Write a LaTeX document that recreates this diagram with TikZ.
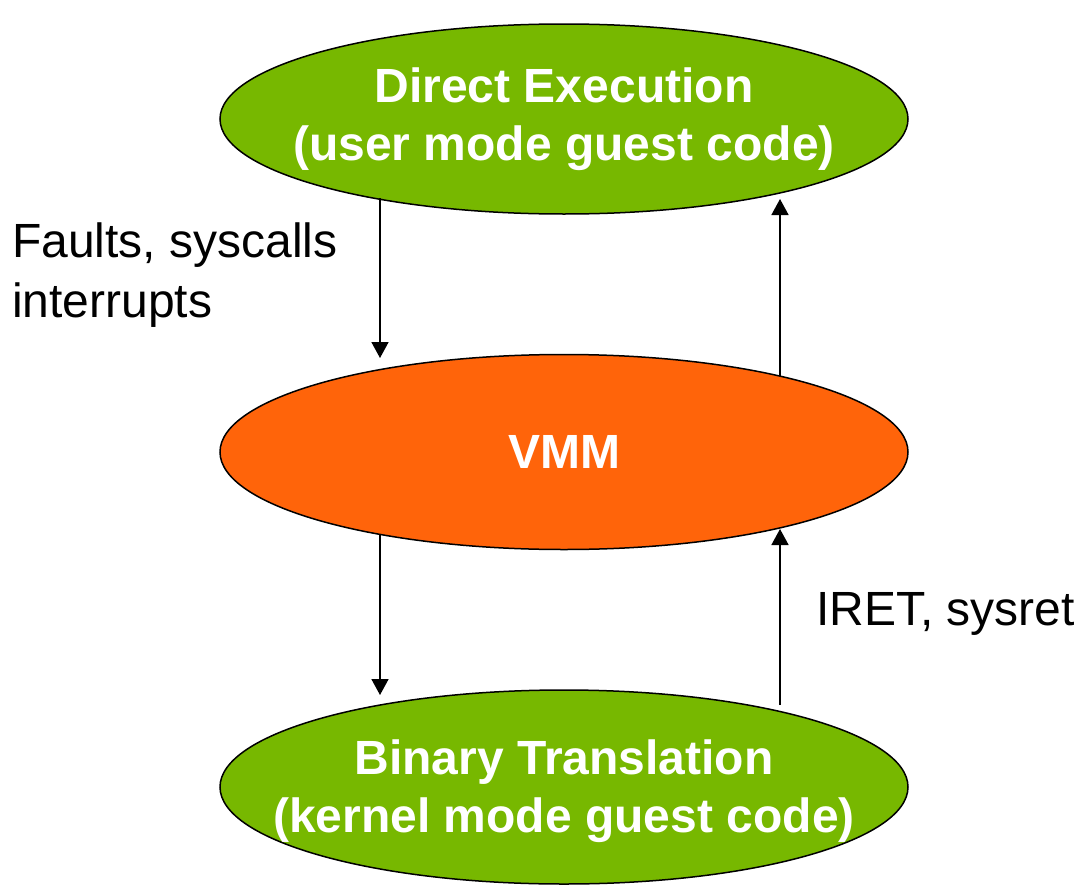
\documentclass[tikz,border=0pt]{standalone}
\usepackage{fontspec}
\setmainfont{Liberation Sans}
\usetikzlibrary{arrows.meta,shapes.geometric}
\definecolor{ovgreen}{HTML}{77B800}
\definecolor{ovorange}{HTML}{FF640A}
\begin{document}
\begin{tikzpicture}[x=1pt,y=-1pt,
  stage/.style={ellipse,draw=black,line width=1.5pt,minimum width=688pt,minimum height=190pt,inner sep=0pt},
  stagetext/.style={text=white,font=\fontsize{48}{58}\selectfont\bfseries,align=center,inner sep=0pt},
  flow/.style={draw=black,line width=1.6pt,-{Triangle[length=16pt,width=17pt]}},
  lbl/.style={font=\fontsize{48}{60}\selectfont,align=left,inner sep=0pt}]
\useasboundingbox (0,0) rectangle (1087,886);
\node[stage,fill=ovgreen] (de) at (564,119) {};
\node[stagetext] (det) at (564,119) {Direct Execution\\(user mode guest code)};
\node[stage,fill=ovorange,minimum height=195pt] (vmm) at (564,452) {};
\node[stagetext] (vmmt) at (vmm.center) {VMM};
\node[stage,fill=ovgreen,minimum height=194pt] (bt) at (564,787) {};
\node[stagetext] (btt) at (564,791) {Binary Translation\\(kernel mode guest code)};
\coordinate (a1s) at (380,198);
\coordinate (a1e) at (380,358);
\coordinate (a2s) at (780,376);
\coordinate (a2e) at (780,199);
\coordinate (a3s) at (380,534);
\coordinate (a3e) at (380,695);
\coordinate (a4s) at (780,705);
\coordinate (a4e) at (780,529);
\draw[flow] (a1s) -- (a1e);
\draw[flow] (a2s) -- (a2e);
\draw[flow] (a3s) -- (a3e);
\draw[flow] (a4s) -- (a4e);
\node[lbl,anchor=north west] (l1) at (12,223) {Faults, syscalls\\interrupts};
\node[lbl,anchor=north west] (l2) at (816,592) {IRET, sysret};
\end{tikzpicture}
\end{document}
